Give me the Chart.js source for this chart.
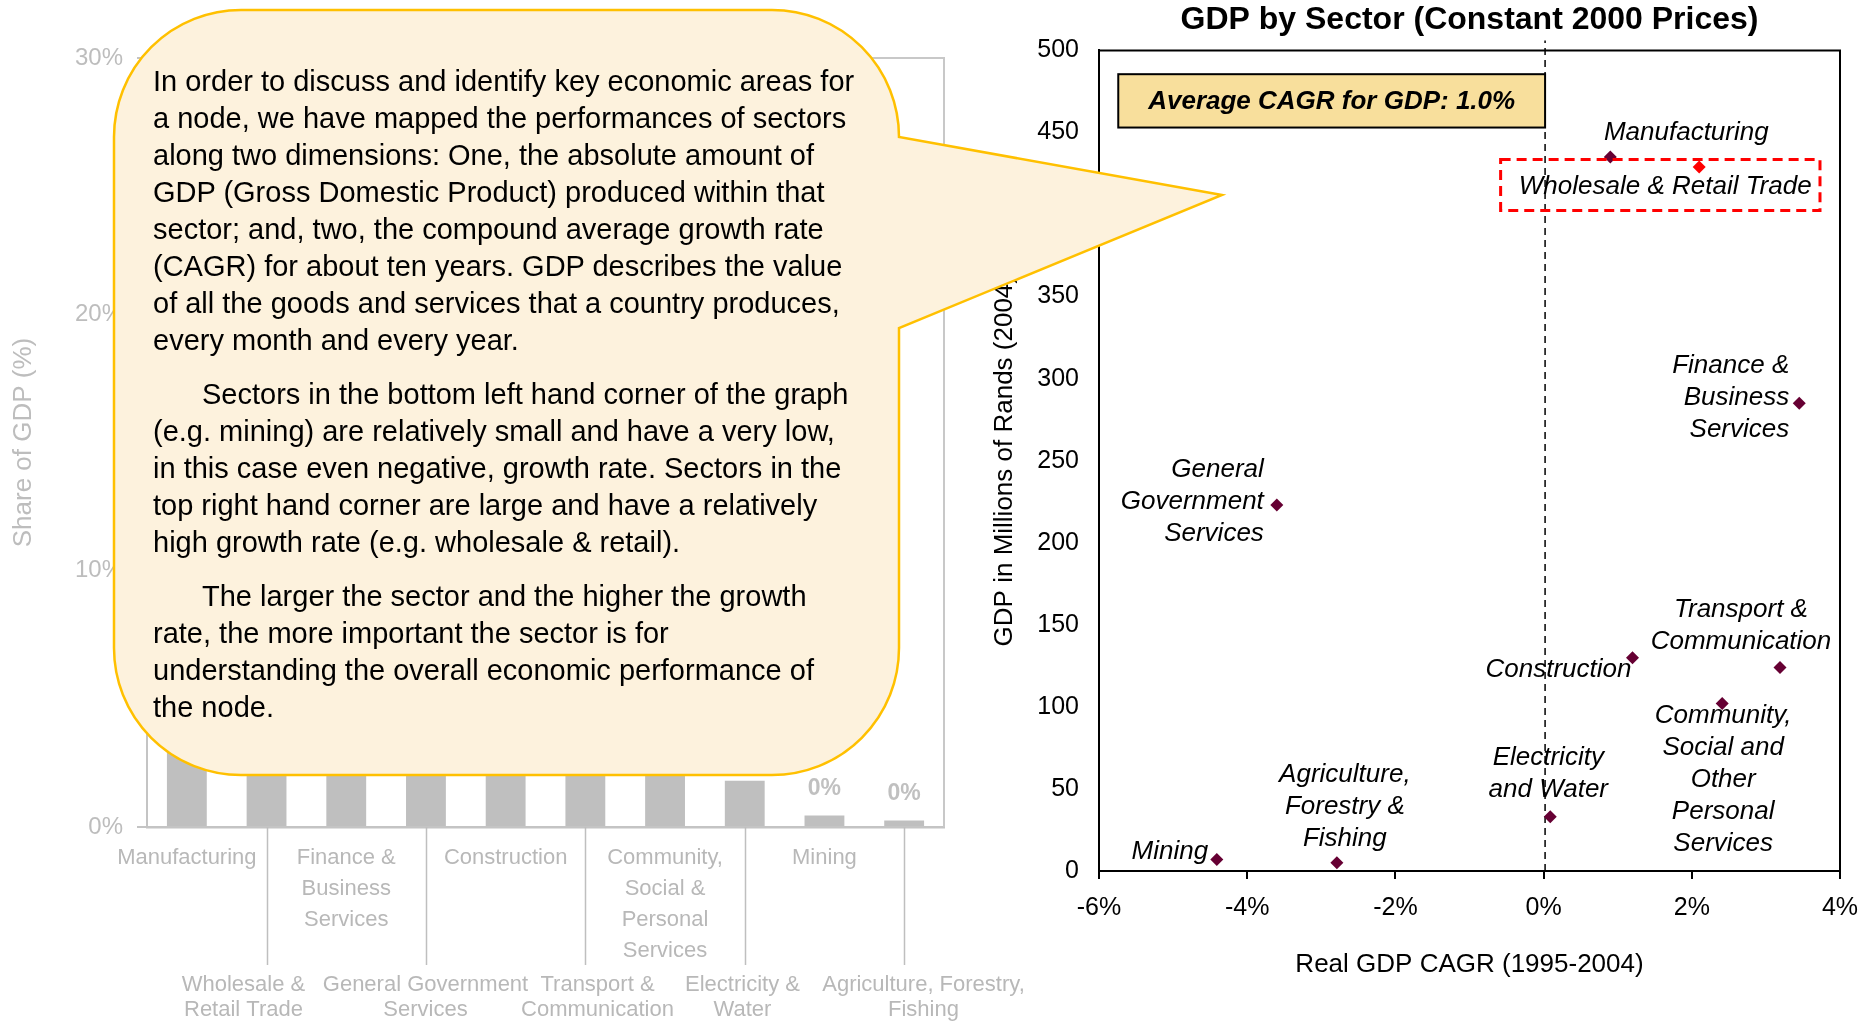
<!DOCTYPE html>
<html>
<head>
<meta charset="utf-8">
<title>GDP by Sector</title>
<script src="https://cdn.jsdelivr.net/npm/chart.js@4.4.1/dist/chart.umd.min.js"></script>
<style>
  html, body { margin: 0; padding: 0; background: #fff; }
  body { width: 1875px; height: 1021px; position: relative; overflow: hidden; font-family: "Liberation Sans", Arial, sans-serif; }
  #barWrap { position: absolute; left: 0; top: 0; width: 1100px; height: 1021px; }
  #scatterWrap { position: absolute; left: 960px; top: 0; width: 915px; height: 1021px; }
  #bubble { position: absolute; left: 0; top: 0; }
  #note { position: absolute; left: 153px; top: 63px; font-size: 29px; line-height: 37px; color: #000; white-space: nowrap; }
  #note p { margin: 0; }
  #note p + p { margin-top: 17px; }
  #note .ind { padding-left: 49px; }
</style>
</head>
<body>
<div id="barWrap"><canvas id="barChart"></canvas></div>
<div id="scatterWrap"><canvas id="scatterChart"></canvas></div>

<svg id="bubble" width="1875" height="1021">
  <path d="M241 10 L772 10 A127 127 0 0 1 899 137 L1222 195 L899 328 L899 648 A127 127 0 0 1 772 775 L241 775 A127 127 0 0 1 114 648 L114 137 A127 127 0 0 1 241 10 Z"
        fill="#FDF2DD" stroke="#FFC000" stroke-width="2.5"/>
</svg>
<div id="note">
  <p>In order to discuss and identify key economic areas for<br>
  a node, we have mapped the performances of sectors<br>
  along two dimensions: One, the absolute amount of<br>
  GDP (Gross Domestic Product) produced within that<br>
  sector; and, two, the compound average growth rate<br>
  (CAGR) for about ten years. GDP describes the value<br>
  of all the goods and services that a country produces,<br>
  every month and every year.</p>
  <p><span class="ind"></span>Sectors in the bottom left hand corner of the graph<br>
  (e.g. mining) are relatively small and have a very low,<br>
  in this case even negative, growth rate. Sectors in the<br>
  top right hand corner are large and have a relatively<br>
  high growth rate (e.g. wholesale &amp; retail).</p>
  <p><span class="ind"></span>The larger the sector and the higher the growth<br>
  rate, the more important the sector is for<br>
  understanding the overall economic performance of<br>
  the node.</p>
</div>

<script>
Chart.defaults.font.family = '"Liberation Sans", Arial, sans-serif';

// ---- left chart: share of GDP by sector ----
const barCategories = [
  ['Manufacturing'],
  ['Wholesale &', 'Retail Trade'],
  ['Finance &', 'Business', 'Services'],
  ['General Government', 'Services'],
  ['Construction'],
  ['Transport &', 'Communication'],
  ['Community,', 'Social &', 'Personal', 'Services'],
  ['Electricity &', 'Water'],
  ['Mining'],
  ['Agriculture, Forestry,', 'Fishing']
];
const shareOfGdp = [24.6, 24.2, 16.1, 12.6, 7.3, 7.0, 5.7, 1.8, 0.45, 0.25];
const shareTicks = [0, 10, 20, 30];

// ---- right chart: GDP vs CAGR ----
const sectors = [
  'Manufacturing', 'Wholesale & Retail Trade', 'Finance & Business Services',
  'General Government Services', 'Construction', 'Transport & Communication',
  'Community, Social and Other Personal Services', 'Electricity and Water',
  'Mining', 'Agriculture, Forestry & Fishing'
];
const realGdpCagr = [0.9, 2.1, 3.45, -3.6, 1.2, 3.19, 2.41, 0.09, -4.41, -2.79];
const gdpMillions = [435, 429, 285, 223, 130, 124, 102, 33, 7, 5];
const sectorLabelLines = [
  ['Manufacturing'],
  ['Wholesale & Retail Trade'],
  ['Finance &', 'Business', 'Services'],
  ['General', 'Government', 'Services'],
  ['Construction'],
  ['Transport &', 'Communication'],
  ['Community,', 'Social and', 'Other', 'Personal', 'Services'],
  ['Electricity', 'and Water'],
  ['Mining'],
  ['Agriculture,', 'Forestry &', 'Fishing']
];
const highlightSector = 'Wholesale & Retail Trade';
const avgCagrText = 'Average CAGR for GDP: 1.0%';
const avgLineX = 0.02;

// lower-row bar labels: horizontal nudge from the tick (pixels)
const lowerLabelNudge = [0, -24, 0, -1, 0, 12, 0, -3, 0, 19];

// label placement relative to each marker (pixels)
const labelOffsets = [
  { dx: 76, dy: -24 },
  { dx: -34, dy: 20 },
  { dx: -10, dy: -37, align: 'right' },
  { dx: -13, dy: -35, align: 'right' },
  { dx: -74, dy: 12 },
  { dx: -39, dy: -58 },
  { dx: 1, dy: 12 },
  { dx: -2, dy: -59 },
  { dx: -47, dy: -8 },
  { dx: 8, dy: -88 }
];
// boxes in data units
const avgBox = { x0: -5.74, x1: 0.02, y0: 453, y1: 485.5 };
const highlightBox = { x0: -0.58, x1: 3.73, y0: 402.5, y1: 433.5 };

const barExtras = {
  id: 'barExtras',
  afterDatasetsDraw(chart) {
    const { ctx, chartArea: a, scales: { x } } = chart;
    ctx.save();
    ctx.strokeStyle = '#C8C8C8';
    ctx.lineWidth = 2;
    ctx.beginPath();
    ctx.moveTo(a.left, a.top);
    ctx.lineTo(a.right, a.top);
    ctx.lineTo(a.right, a.bottom);
    ctx.stroke();

    // leader lines + lower row of category labels
    ctx.font = '22px "Liberation Sans", Arial, sans-serif';
    ctx.textAlign = 'center';
    ctx.textBaseline = 'middle';
    barCategories.forEach((c, i) => {
      if (i % 2 === 0) return;
      const px = Math.round(x.getPixelForValue(i)) + 0.5;
      ctx.strokeStyle = '#BFBFBF';
      ctx.lineWidth = 1.5;
      ctx.beginPath();
      ctx.moveTo(px, a.bottom);
      ctx.lineTo(px, a.bottom + 138);
      ctx.stroke();
      ctx.fillStyle = '#B8B8B8';
      c.forEach((t, k) => ctx.fillText(t, px + lowerLabelNudge[i], a.bottom + 158 + k * 25));
    });

    ctx.font = 'bold 23px "Liberation Sans", Arial, sans-serif';
    ctx.fillStyle = '#C0C0C0';
    chart.getDatasetMeta(0).data.forEach((bar, i) => {
      ctx.fillText(Math.round(shareOfGdp[i]) + '%', bar.x, bar.y - 27);
    });
    ctx.restore();
  }
};

new Chart(document.getElementById('barChart'), {
  type: 'bar',
  data: {
    labels: barCategories.map(c => c.join(' ')),
    datasets: [{
      data: shareOfGdp,
      backgroundColor: '#BFBFBF',
      barPercentage: 0.5,
      categoryPercentage: 1.0
    }]
  },
  options: {
    responsive: true,
    maintainAspectRatio: false,
    animation: false,
    layout: { padding: { left: 0, right: 156, top: 58, bottom: 0 } },
    plugins: { legend: { display: false }, tooltip: { enabled: false } },
    scales: {
      x: {
        grid: { display: false, drawTicks: false },
        border: { display: true, color: '#C4C4C4', width: 2.5 },
        ticks: {
          autoSkip: false,
          maxRotation: 0,
          padding: 15,
          color: '#B8B8B8',
          font: { size: 22, lineHeight: 1.42 },
          // the lower row is drawn by barExtras
          callback: (v, i) => i % 2 ? '' : barCategories[i]
        },
        afterFit: s => { s.height = 194; }
      },
      y: {
        min: 0,
        max: 30,
        afterBuildTicks: s => { s.ticks = shareTicks.map(v => ({ value: v })); },
        ticks: { callback: v => v + '%', color: '#BDBDBD', font: { size: 24 }, padding: 14 },
        grid: { display: true, drawOnChartArea: false, drawTicks: true, tickLength: 10, color: '#C4C4C4', lineWidth: 2 },
        border: { display: true, color: '#C4C4C4', width: 2 },
        title: { display: true, text: 'Share of GDP (%)', color: '#BDBDBD', font: { size: 26 }, padding: { top: 8, bottom: 0 } },
        afterFit: s => { s.width = 147; }
      }
    }
  },
  plugins: [barExtras]
});

const scatterExtras = {
  id: 'scatterExtras',
  afterDatasetsDraw(chart) {
    const { ctx, chartArea: a, scales: { x, y } } = chart;
    ctx.save();
    ctx.strokeStyle = '#000';
    ctx.lineWidth = 2;
    ctx.beginPath();
    ctx.moveTo(a.left, a.top);
    ctx.lineTo(a.right, a.top);
    ctx.lineTo(a.right, a.bottom);
    ctx.stroke();

    // average CAGR box
    const bx0 = x.getPixelForValue(avgBox.x0), bx1 = x.getPixelForValue(avgBox.x1);
    const by0 = y.getPixelForValue(avgBox.y1), by1 = y.getPixelForValue(avgBox.y0);
    ctx.fillStyle = '#F8DF9C';
    ctx.fillRect(bx0, by0, bx1 - bx0, by1 - by0);
    ctx.strokeRect(bx0, by0, bx1 - bx0, by1 - by0);
    ctx.fillStyle = '#000';
    ctx.font = 'italic bold 26px "Liberation Sans", Arial, sans-serif';
    ctx.textAlign = 'center';
    ctx.textBaseline = 'middle';
    ctx.fillText(avgCagrText, (bx0 + bx1) / 2, (by0 + by1) / 2 + 1);

    // highlight box around wholesale & retail
    const hx0 = x.getPixelForValue(highlightBox.x0), hx1 = x.getPixelForValue(highlightBox.x1);
    const hy0 = y.getPixelForValue(highlightBox.y1), hy1 = y.getPixelForValue(highlightBox.y0);
    ctx.strokeStyle = '#FF0000';
    ctx.lineWidth = 3;
    ctx.setLineDash([10, 6]);
    ctx.strokeRect(hx0, hy0, hx1 - hx0, hy1 - hy0);
    ctx.setLineDash([]);

    // sector labels
    ctx.font = 'italic 26px "Liberation Sans", Arial, sans-serif';
    ctx.fillStyle = '#000';
    sectorLabelLines.forEach((lines, i) => {
      const px = x.getPixelForValue(realGdpCagr[i]);
      const py = y.getPixelForValue(gdpMillions[i]);
      const o = labelOffsets[i];
      ctx.textAlign = o.align || 'center';
      lines.forEach((t, k) => ctx.fillText(t, px + o.dx, py + o.dy + k * 32));
    });
    ctx.restore();
  }
};

new Chart(document.getElementById('scatterChart'), {
  type: 'scatter',
  data: {
    datasets: [{
      label: 'Sectors',
      data: sectors.map((s, i) => ({ x: realGdpCagr[i], y: gdpMillions[i] })),
      pointStyle: 'rectRot',
      pointRadius: 6.5,
      pointBorderWidth: 0,
      pointBackgroundColor: sectors.map(s => s === highlightSector ? '#FF0000' : '#660033')
    }, {
      label: 'Average',
      data: [{ x: avgLineX, y: 0 }, { x: avgLineX, y: 506 }],
      showLine: true,
      borderColor: '#000',
      borderWidth: 1.5,
      borderDash: [7, 5],
      pointRadius: 0,
      clip: false
    }]
  },
  options: {
    responsive: true,
    maintainAspectRatio: false,
    animation: false,
    layout: { padding: { left: 0, right: 35, top: 0, bottom: 0 } },
    plugins: {
      legend: { display: false },
      tooltip: { enabled: false },
      title: {
        display: true,
        fullSize: false,
        text: 'GDP by Sector (Constant 2000 Prices)',
        color: '#000',
        font: { size: 32, weight: 'bold' },
        padding: { top: 1, bottom: 11 }
      }
    },
    scales: {
      x: {
        type: 'linear',
        min: -6,
        max: 4,
        ticks: { stepSize: 2, callback: v => v + '%', color: '#000', font: { size: 25 }, padding: 14 },
        grid: { display: true, drawOnChartArea: false, drawTicks: true, tickLength: 8, color: '#000', lineWidth: 2 },
        border: { display: true, color: '#000', width: 2 },
        title: { display: true, text: 'Real GDP CAGR (1995-2004)', color: '#000', font: { size: 26 }, padding: { top: 0, bottom: 41 } },
        afterFit: s => { s.height = 150; }
      },
      y: {
        min: 0,
        max: 500,
        ticks: { stepSize: 50, color: '#000', font: { size: 25 }, padding: 20 },
        grid: { display: false, drawTicks: false },
        border: { display: true, color: '#000', width: 2 },
        title: { display: true, text: 'GDP in Millions of Rands (2004)', color: '#000', font: { size: 26 }, padding: { top: 29, bottom: 0 } },
        afterFit: s => { s.width = 139; }
      }
    }
  },
  plugins: [scatterExtras]
});
</script>
</body>
</html>
